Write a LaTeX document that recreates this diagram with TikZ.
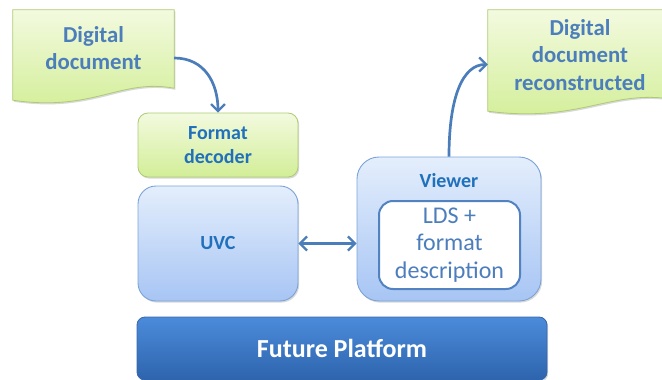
\documentclass[tikz,border=0pt]{standalone}
\usepackage{fontspec}
\setmainfont{Carlito}
\usetikzlibrary{arrows.meta,shadows,calc}

\definecolor{greentop}{HTML}{F3FADF}
\definecolor{greenbot}{HTML}{D2EE97}
\definecolor{greenline}{HTML}{AECB74}
\definecolor{bluetop}{HTML}{E4EEFC}
\definecolor{bluebot}{HTML}{A7C5F4}
\definecolor{blueline}{HTML}{7BA3D8}
\definecolor{deeptop}{HTML}{4B8BDA}
\definecolor{deepbot}{HTML}{2E64AD}
\definecolor{deepline}{HTML}{3567AA}
\definecolor{textblue}{HTML}{4C7EBC}
\definecolor{darktext}{HTML}{2070BC}
\definecolor{arrowblue}{HTML}{4A7DBA}
\definecolor{ldsline}{HTML}{5283C0}

\tikzset{
  softshadow/.style={drop shadow={shadow xshift=1.2pt, shadow yshift=-1.6pt, opacity=0.25, fill=black!60}},
  greenfill/.style={top color=greentop, bottom color=greenbot, draw=greenline, line width=0.8pt},
  bluefill/.style={top color=bluetop, bottom color=bluebot, draw=blueline, line width=0.9pt},
  doclabel/.style={font=\fontsize{22.8}{27}\selectfont\bfseries, text=textblue, align=center},
  boxlabel/.style={font=\fontsize{20}{24}\selectfont\bfseries, text=darktext, align=center},
  docregion/.style={inner sep=0pt, minimum width=#1},
  decoderbox/.style={greenfill, softshadow, rounded corners=10pt, minimum width=160pt, minimum height=64pt, boxlabel},
  unitbox/.style={bluefill, softshadow, rounded corners=18pt, boxlabel},
  ldsbox/.style={fill=white, draw=ldsline, line width=2pt, rounded corners=14pt,
    minimum width=141pt, minimum height=88pt, align=center,
    font=\fontsize{24}{27.5}\selectfont, text=textblue},
  platformbox/.style={top color=deeptop, bottom color=deepbot, draw=deepline, line width=0.8pt,
    softshadow, rounded corners=8pt, minimum width=410pt, minimum height=63pt,
    font=\fontsize{26}{30}\selectfont\bfseries, text=white},
  conn/.style={draw=arrowblue, line width=2.7pt,
    -{Straight Barb[length=7pt, width=14pt, line width=2.2pt]}},
  twoway/.style={draw=arrowblue, line width=2.7pt,
    {Straight Barb[length=7pt, width=14pt, line width=2.2pt]}-{Straight Barb[length=7pt, width=14pt, line width=2.2pt]}},
}

\begin{document}
\begin{tikzpicture}[x=1pt, y=-1pt]
\clip (0,0) rectangle (662,380);

% incoming document with a wavy lower edge
\node[docregion=161pt, minimum height=78pt] (din) at (93.5,49) {};
\path[greenfill, softshadow]
  (din.north west) -- (din.north east) -- (din.south east)
  .. controls ($(din.south east)+(-54,-10)$) and ($(din.south west)+(81,24)$) ..
  ($(din.south west)+(0,12)$) -- cycle;
\node[doclabel] (dintext) at (93.5,48) {Digital\\document};

% reconstructed document, running off the right edge
\node[docregion=184pt, minimum height=89pt] (dout) at (580,54.5) {};
\path[greenfill, softshadow]
  (dout.north west) -- (dout.north east) -- (dout.south east)
  .. controls ($(dout.south east)+(-62,-10)$) and ($(dout.south west)+(92,24)$) ..
  ($(dout.south west)+(0,12)$) -- cycle;
\node[doclabel, font=\fontsize{22.8}{27.5}\selectfont\bfseries] (douttext) at (580,55) {Digital\\document\\reconstructed};

% processing blocks
\node[decoderbox] (fd) at (218,145) {Format\\decoder};
\node[unitbox, minimum width=160pt, minimum height=115pt] (uvc) at (218,243.5) {UVC};
\node[unitbox, rounded corners=22pt, minimum width=184pt, minimum height=144pt] (viewer) at (449,229) {};
\node[boxlabel] (vlabel) at (449,181) {Viewer};
\node[ldsbox] (lds) at (449.5,245) {LDS +\\format\\description};

% platform bar
\node[platformbox] (fp) at (342,348.5) {Future Platform};

% connectors
\draw[conn] ([yshift=-9pt]din.east) .. controls +(30,0) and +(0,-30) .. (fd.north);
\draw[conn] (viewer.north) .. controls +(0,-60) and +(-25,0) .. ([yshift=-10pt]dout.west);
\draw[twoway] (uvc.east) -- (uvc.east -| viewer.west);
\end{tikzpicture}
\end{document}
